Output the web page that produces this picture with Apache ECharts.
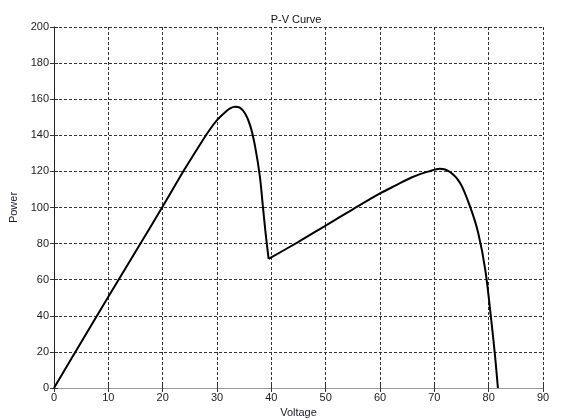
<!DOCTYPE html>
<html>
<head>
<meta charset="utf-8">
<script src="https://cdn.jsdelivr.net/npm/echarts@6/dist/echarts.min.js"></script>
<style>html,body{margin:0;padding:0;background:#fff;}#c{width:566px;height:419px;}</style>
</head>
<body>
<div id="c"></div>
<script>
var titleText = 'P-V Curve';
var xName = 'Voltage';
var yName = 'Power';
// first hump: from 0 V up to the cusp at ~39.5 V
var voltageA = [0, 5, 10, 15, 20, 24, 27, 28.5, 30, 31.5, 32.5, 33.3, 34.2, 35.2, 36.1, 37, 37.9, 38.4, 38.9, 39.5];
var powerA = [0, 25.3, 50.5, 75.5, 100.5, 121, 135.5, 142.4, 148.4, 152.8, 155, 155.8, 155.3, 152, 145.5, 134, 117, 102, 87, 71.5];
// second hump: from the cusp to open-circuit voltage
var voltageB = [39.5, 45, 50, 55, 60, 63, 66, 69, 71, 72.9, 74.8, 76.6, 78.1, 79.4, 80.5, 81.2, 81.7];
var powerB = [71.5, 81, 90, 99, 107.8, 112.4, 116.9, 120, 121.5, 119.7, 113.3, 100.3, 85.6, 65, 37, 17, 0];
var xTicks = [0, 10, 20, 30, 40, 50, 60, 70, 80, 90];
var yTicks = [0, 20, 40, 60, 80, 100, 120, 140, 160, 180, 200];

function pairs(xs, ys) { return xs.map(function (v, i) { return [v, ys[i]]; }); }
var font = 'Liberation Sans, Arial, sans-serif';
var chart = echarts.init(document.getElementById('c'), null, {renderer: 'canvas'});
var gridDash = {show: true, lineStyle: {color: '#333', width: 1, type: [3, 2]}};
var lineSeries = function (d) {
  return {type: 'line', data: d, showSymbol: false, smooth: 0.3,
    lineStyle: {color: '#000', width: 2}, clip: false};
};
chart.setOption({
  animation: false,
  backgroundColor: '#fff',
  title: {text: titleText, left: 291, top: 9, textAlign: 'center',
    textStyle: {fontFamily: font, fontSize: 11, fontWeight: 'normal', color: '#111'}},
  grid: {left: 54, right: 23, top: 27, bottom: 31, show: false, containLabel: false, outerBoundsMode: 'none'},
  xAxis: [{
    type: 'value', min: xTicks[0], max: xTicks[xTicks.length - 1], interval: 10,
    name: xName, nameLocation: 'middle', nameGap: 14,
    nameTextStyle: {fontFamily: font, fontSize: 11, color: '#1a1a2a'},
    axisLine: {show: true, lineStyle: {color: '#888', width: 1}},
    axisTick: {show: true, inside: true, length: 4, lineStyle: {color: '#333'}},
    axisLabel: {fontFamily: font, fontSize: 11, color: '#222', margin: 4},
    splitLine: gridDash
  }, {
    type: 'value', position: 'top', min: xTicks[0], max: xTicks[xTicks.length - 1], interval: 10,
    axisLine: {show: true, lineStyle: {color: '#999', width: 1}},
    axisTick: {show: true, inside: true, length: 4, lineStyle: {color: '#333'}},
    axisLabel: {show: false}, splitLine: {show: false}
  }],
  yAxis: [{
    type: 'value', min: yTicks[0], max: yTicks[yTicks.length - 1], interval: 20,
    name: yName, nameLocation: 'middle', nameGap: 30,
    nameTextStyle: {fontFamily: font, fontSize: 11, color: '#1a1a3a'},
    axisLine: {show: true, lineStyle: {color: '#888', width: 1}},
    axisTick: {show: true, inside: true, length: 4, lineStyle: {color: '#333'}},
    axisLabel: {fontFamily: font, fontSize: 11, color: '#222', margin: 5},
    splitLine: gridDash
  }, {
    type: 'value', position: 'right', min: yTicks[0], max: yTicks[yTicks.length - 1], interval: 20,
    axisLine: {show: true, lineStyle: {color: '#222', width: 1}},
    axisTick: {show: true, inside: true, length: 4, lineStyle: {color: '#333'}},
    axisLabel: {show: false}, splitLine: {show: false}
  }],
  series: [lineSeries(pairs(voltageA, powerA)), lineSeries(pairs(voltageB, powerB))]
});
</script>
</body>
</html>
